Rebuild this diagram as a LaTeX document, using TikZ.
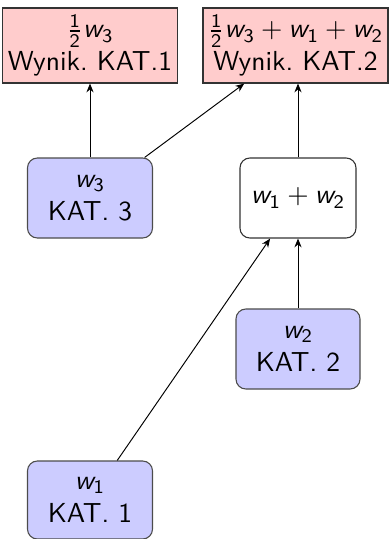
\documentclass[tikz,border=0pt]{standalone}
\usetikzlibrary{arrows.meta}
\DeclareSymbolFont{letters}{OT1}{cmss}{m}{sl}
\DeclareSymbolFont{operators}{OT1}{cmss}{m}{n}
\frenchspacing
\begin{document}
\begin{tikzpicture}[x=0.3636pt,y=-0.3636pt,
  font=\sffamily,
  res/.style={draw=black!80,fill=red!20,align=center,inner sep=0pt,minimum height=75*0.3636pt},
  cat/.style={draw=black!70,fill=blue!20,rounded corners=3.6pt,align=center,inner sep=0pt,minimum width=125*0.3636pt,minimum height=80*0.3636pt},
  sumbox/.style={draw=black!80,fill=white,rounded corners=3.6pt,align=center,inner sep=0pt,minimum width=116*0.3636pt,minimum height=80*0.3636pt},
  arr/.style={-{Stealth[length=3.2pt,width=2.6pt]},line width=0.35pt}]
\useasboundingbox (0,0) rectangle (391,539);
\node[res,minimum width=175*0.3636pt] (A) at (90,45.5) {$\frac{1}{2}w_3$\\Wynik. KAT.1};
\node[res,minimum width=185*0.3636pt] (B) at (295.5,45.5) {$\frac{1}{2}w_3+w_1+w_2$\\Wynik. KAT.2};
\node[cat] (K3) at (90,198) {$w_3$\\KAT. 3};
\node[sumbox] (S) at (298,198) {$w_1+w_2$};
\node[cat,minimum width=124*0.3636pt] (K2) at (298,349) {$w_2$\\KAT. 2};
\node[cat,minimum height=78*0.3636pt] (K1) at (90,500) {$w_1$\\KAT. 1};
\draw[arr] (K3) -- (K3 |- A.south);
\draw[arr] (K3) -- (B);
\draw[arr] (S) -- (S |- B.south);
\draw[arr] (K2) -- (S);
\draw[arr] (K1) -- (S);
\end{tikzpicture}
\end{document}
